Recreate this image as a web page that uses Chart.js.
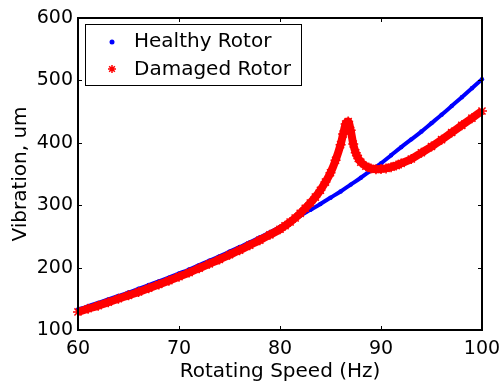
<!DOCTYPE html>
<html>
<head>
<meta charset="utf-8">
<script src="https://cdn.jsdelivr.net/npm/chart.js@4.4.1/dist/chart.umd.min.js"></script>
<style>
html, body { margin: 0; padding: 0; background: #fff; }
#wrap { width: 499px; height: 385px; }
</style>
</head>
<body>
<div id="wrap"><canvas id="rotorChart" width="499" height="385"></canvas></div>
<script>
// Datos
const healthySpeed = [60, 61, 62, 63, 64, 65, 66, 67, 68, 69, 70, 71, 72, 73, 74, 75, 76, 77, 78, 79, 80,
    81, 82, 83, 84, 85, 86, 87, 88, 89, 90, 91, 92, 93, 94, 95, 96, 97, 98, 99, 100];
const healthyVib = [133, 138, 143.5, 149, 154.5, 160, 166, 172, 178, 184, 190.5, 197, 204, 211, 218, 225.5, 233, 240.5, 248.5, 256.5, 265,
    274, 283, 292.5, 302, 312, 322, 333, 344, 355.5, 367, 380, 393, 405.5, 418, 431.5, 445, 459, 473, 487.5, 502];

const damagedSpeed = [60, 61, 62, 63, 64, 65, 66, 67, 68, 69, 70, 71, 72, 73, 74, 75, 76, 77, 78, 79, 80,
    80.5, 81, 81.5, 82, 82.5, 83, 83.5, 84, 84.5, 85, 85.5, 86, 86.25, 86.5, 86.75, 87, 87.25, 87.5, 87.75, 88,
    88.5, 89, 89.5, 90, 90.5, 91, 91.5, 92, 93, 94, 95, 96, 97, 98, 99, 100];
const damagedVib = [129, 134, 139, 144.5, 150, 155.5, 161, 167, 173, 179, 185.5, 192, 199, 206, 213, 220.5, 228, 236, 244, 252.5, 261.5,
    267, 273, 279.5, 287, 295, 303.5, 313, 324, 337, 352, 372, 397, 414, 430, 434, 420, 398, 384, 375, 369,
    362.5, 359, 357.5, 358, 359, 361, 363.5, 367, 374, 384, 394, 405, 416.5, 428, 439.5, 451];

const xTicks = [60, 70, 80, 90, 100];
const yTicks = [100, 200, 300, 400, 500, 600];
const seriesNames = ['Healthy Rotor', 'Damaged Rotor'];

Chart.defaults.font.family = "'DejaVu Sans', sans-serif";
Chart.defaults.color = '#000';

// Marco de ejes con marcas hacia dentro (estilo MATLAB)
const axesBox = {
    id: 'axesBox',
    afterDatasetsDraw(chart) {
        const { ctx, chartArea: a, scales } = chart;
        ctx.save();
        ctx.strokeStyle = '#000';
        ctx.lineWidth = 1;
        xTicks.forEach(v => {
            const x = Math.round(scales.x.getPixelForValue(v)) + 0.5;
            ctx.beginPath();
            ctx.moveTo(x, a.bottom); ctx.lineTo(x, a.bottom - 4);
            ctx.moveTo(x, a.top); ctx.lineTo(x, a.top + 4);
            ctx.stroke();
        });
        yTicks.forEach(v => {
            const y = Math.round(scales.y.getPixelForValue(v)) + 0.5;
            ctx.beginPath();
            ctx.moveTo(a.left, y); ctx.lineTo(a.left + 4, y);
            ctx.moveTo(a.right, y); ctx.lineTo(a.right - 4, y);
            ctx.stroke();
        });
        ctx.lineWidth = 2;
        ctx.strokeRect(a.left, a.top, a.right - a.left, a.bottom - a.top);
        ctx.restore();
    }
};

// Leyenda dentro del area del grafico
const boxLegend = {
    id: 'boxLegend',
    afterDraw(chart) {
        const ctx = chart.ctx;
        ctx.save();
        ctx.fillStyle = '#fff';
        ctx.fillRect(85, 24, 216, 61);
        ctx.strokeStyle = '#000';
        ctx.lineWidth = 1;
        ctx.strokeRect(85.5, 24.5, 216, 61);

        ctx.fillStyle = '#0000ff';
        ctx.beginPath();
        ctx.arc(112, 42, 2.5, 0, Math.PI * 2);
        ctx.fill();

        ctx.strokeStyle = '#ff0000';
        ctx.lineWidth = 1.5;
        const r = 4;
        ctx.beginPath();
        for (let i = 0; i < 4; i++) {
            const ang = i * Math.PI / 4;
            ctx.moveTo(112 - r * Math.cos(ang), 69 - r * Math.sin(ang));
            ctx.lineTo(112 + r * Math.cos(ang), 69 + r * Math.sin(ang));
        }
        ctx.stroke();

        ctx.fillStyle = '#000';
        ctx.font = "20px 'DejaVu Sans'";
        ctx.textBaseline = 'middle';
        ctx.fillText(seriesNames[0], 134, 42);
        ctx.fillText(seriesNames[1], 134, 70);
        ctx.restore();
    }
};

const ctx = document.getElementById('rotorChart').getContext('2d');
const rotorChart = new Chart(ctx, {
    type: 'line',
    data: {
        datasets: [{
            label: seriesNames[0],
            data: healthySpeed.map((s, i) => ({ x: s, y: healthyVib[i] })),
            borderColor: '#0000ff',
            backgroundColor: '#0000ff',
            borderWidth: 4,
            pointRadius: 2.2,
            pointBorderWidth: 0,
            cubicInterpolationMode: 'monotone',
            clip: 6,
            order: 1
        }, {
            label: seriesNames[1],
            data: damagedSpeed.map((s, i) => ({ x: s, y: damagedVib[i] })),
            borderColor: '#ff0000',
            backgroundColor: '#ff0000',
            borderWidth: 8,
            pointStyle: 'star',
            pointRadius: 5,
            pointBorderWidth: 1.5,
            cubicInterpolationMode: 'monotone',
            clip: 6,
            order: 0
        }]
    },
    options: {
        responsive: false,
        animation: false,
        devicePixelRatio: 1,
        layout: { padding: { top: 18, right: 17, left: 0, bottom: 0 } },
        plugins: {
            legend: { display: false },
            tooltip: { enabled: false }
        },
        scales: {
            x: {
                type: 'linear',
                min: 60,
                max: 100,
                afterBuildTicks: s => { s.ticks = xTicks.map(v => ({ value: v })); },
                afterFit: s => { s.height = 55; s.paddingLeft = 0; s.paddingRight = 0; },
                grid: { display: false, drawTicks: false },
                border: { display: false },
                ticks: { font: { size: 19 }, color: '#000', padding: 8, maxRotation: 0 },
                title: { display: true, text: 'Rotating Speed (Hz)', font: { size: 20 }, color: '#000', padding: { top: 0, bottom: 1 } }
            },
            y: {
                type: 'linear',
                min: 100,
                max: 600,
                afterBuildTicks: s => { s.ticks = yTicks.map(v => ({ value: v })); },
                afterFit: s => { s.width = 78; s.paddingTop = 0; s.paddingBottom = 0; },
                grid: { display: false, drawTicks: false },
                border: { display: false },
                ticks: { font: { size: 19 }, color: '#000', padding: 5 },
                title: { display: true, text: 'Vibration, um', font: { size: 20 }, color: '#000', padding: { top: 9, bottom: 0 } }
            }
        }
    },
    plugins: [axesBox, boxLegend]
});
</script>
</body>
</html>
